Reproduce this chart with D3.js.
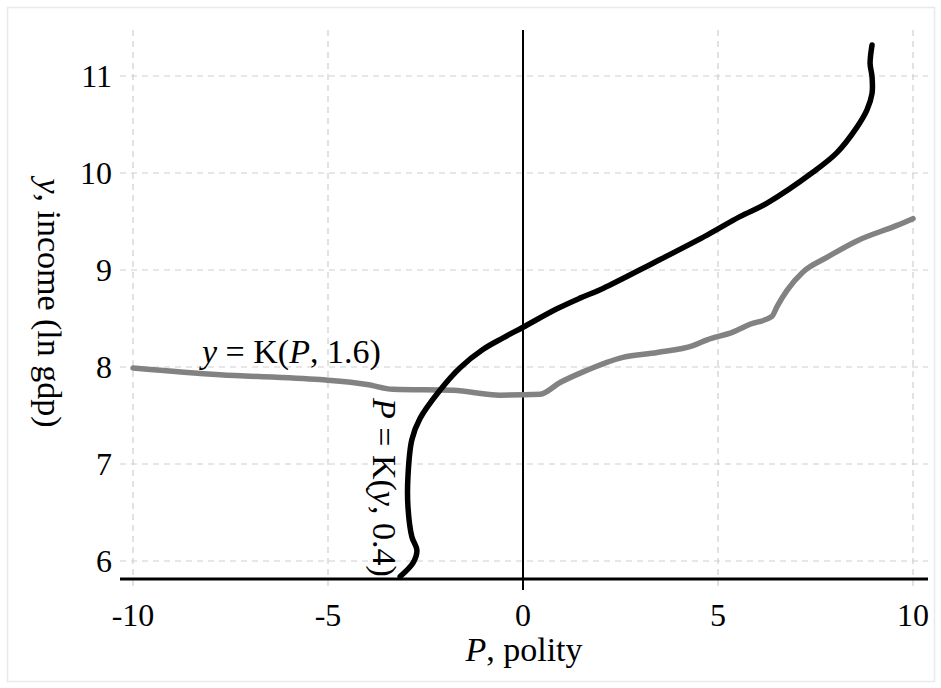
<!DOCTYPE html>
<html lang="en">
<head>
<meta charset="UTF-8">
<title>Polity and income</title>
<script src="https://d3js.org/d3.v7.min.js"></script>
<style>
  body { margin: 0; background: #fff; }
  svg text { font-family: "Liberation Serif", "Times New Roman", serif; fill: #000; }
</style>
</head>
<body>
<svg id="chart" width="941" height="688"></svg>
<script>
// y = K(P, 1.6): income smoothed on polity (grey)
const grayP = [-10, -7.77, -5.21, -4.0, -3.33, -1.79, -0.59, 0.44, 0.95, 1.54, 2.56, 3.44, 4.36, 4.72, 5.38, 5.82, 6.38, 6.51, 6.77, 7.18, 7.79, 8.56, 9.59, 10.0];
const grayY = [7.99, 7.92, 7.87, 7.82, 7.77, 7.76, 7.71, 7.72, 7.84, 7.95, 8.10, 8.15, 8.22, 8.28, 8.36, 8.44, 8.52, 8.62, 8.79, 8.98, 9.13, 9.30, 9.46, 9.53];

// P = K(y, 0.4): polity smoothed on income (black)
const blackY = [5.84, 5.98, 6.11, 6.25, 6.56, 6.87, 7.25, 7.47, 7.76, 7.99, 8.18, 8.30, 8.41, 8.60, 8.71, 8.81, 9.07, 9.36, 9.55, 9.69, 10.01, 10.21, 10.47, 10.65, 10.82, 10.99, 11.13, 11.32];
const blackP = [-3.15, -2.82, -2.72, -2.85, -2.95, -2.95, -2.85, -2.64, -2.13, -1.62, -1.03, -0.51, 0.0, 0.87, 1.46, 2.05, 3.33, 4.72, 5.56, 6.26, 7.44, 8.05, 8.56, 8.82, 8.95, 8.95, 8.90, 8.95];

const xTicks = [-10, -5, 0, 5, 10];
const yTicks = [6, 7, 8, 9, 10, 11];

const svg = d3.select('#chart');

// faint outer frame
svg.append('rect')
    .attr('x', 7.5).attr('y', 7.5)
    .attr('width', 927).attr('height', 674)
    .attr('fill', 'none')
    .attr('stroke', '#e4ecec')
    .attr('stroke-width', 1.5);

const x = d3.scaleLinear().domain([-10, 10]).range([133, 913]);
const y = d3.scaleLinear().domain([6, 11]).range([561, 76]);

const plotLeft = 120, plotRight = 928, plotTop = 30, axisY = 579, plotBelow = 590;

// dashed grid
svg.append('g').selectAll('line').data(xTicks.filter(d => d !== 0)).join('line')
    .attr('x1', d => x(d)).attr('x2', d => x(d))
    .attr('y1', plotTop).attr('y2', plotBelow)
    .attr('stroke', '#cfcfcf').attr('stroke-width', 1.2)
    .attr('stroke-dasharray', '6,5');

svg.append('g').selectAll('line').data(yTicks).join('line')
    .attr('x1', plotLeft).attr('x2', plotRight)
    .attr('y1', d => y(d)).attr('y2', d => y(d))
    .attr('stroke', '#cfcfcf').attr('stroke-width', 1.2)
    .attr('stroke-dasharray', '6,5');

// x axis line and vertical line at P = 0
svg.append('line')
    .attr('x1', plotLeft).attr('x2', plotRight)
    .attr('y1', axisY).attr('y2', axisY)
    .attr('stroke', '#000').attr('stroke-width', 3);

svg.append('line')
    .attr('x1', x(0)).attr('x2', x(0))
    .attr('y1', plotTop).attr('y2', plotBelow)
    .attr('stroke', '#000').attr('stroke-width', 2);

// tick labels
svg.append('g').selectAll('text').data(xTicks).join('text')
    .attr('x', d => x(d)).attr('y', 626)
    .attr('text-anchor', 'middle')
    .style('font-size', '32px')
    .text(d => d);

svg.append('g').selectAll('text').data(yTicks).join('text')
    .attr('x', 112).attr('y', d => y(d))
    .attr('text-anchor', 'end')
    .attr('dominant-baseline', 'central')
    .style('font-size', '32px')
    .text(d => d);

// axis titles
const xt = svg.append('text')
    .attr('x', x(0) + 1).attr('y', 661)
    .attr('text-anchor', 'middle')
    .style('font-size', '34px');
xt.append('tspan').style('font-style', 'italic').text('P');
xt.append('tspan').text(', polity');

const yt = svg.append('text')
    .attr('transform', 'translate(38,303) rotate(90)')
    .attr('text-anchor', 'middle')
    .style('font-size', '34px');
yt.append('tspan').style('font-style', 'italic').text('y');
yt.append('tspan').text(', income (ln gdp)');

// curves
const grayData = grayP.map((p, i) => ({ p, y: grayY[i] }));
const blackData = blackY.map((v, i) => ({ p: blackP[i], y: v }));

svg.append('path')
    .datum(grayData)
    .attr('fill', 'none')
    .attr('stroke', '#828282')
    .attr('stroke-width', 5.5)
    .attr('stroke-linecap', 'round')
    .attr('stroke-linejoin', 'round')
    .attr('d', d3.line().x(d => x(d.p)).y(d => y(d.y)).curve(d3.curveMonotoneX));

svg.append('path')
    .datum(blackData)
    .attr('fill', 'none')
    .attr('stroke', '#000')
    .attr('stroke-width', 5.5)
    .attr('stroke-linecap', 'round')
    .attr('stroke-linejoin', 'round')
    .attr('d', d3.line().x(d => x(d.p)).y(d => y(d.y)).curve(d3.curveCatmullRom));

// curve labels
const gl = svg.append('text')
    .attr('x', 202).attr('y', 363)
    .style('font-size', '34px');
gl.append('tspan').style('font-style', 'italic').text('y');
gl.append('tspan').text(' = K(');
gl.append('tspan').style('font-style', 'italic').text('P');
gl.append('tspan').text(', 1.6)');

const bl = svg.append('text')
    .attr('transform', 'translate(373,398) rotate(90)')
    .style('font-size', '34px');
bl.append('tspan').style('font-style', 'italic').text('P');
bl.append('tspan').text(' = K(');
bl.append('tspan').style('font-style', 'italic').text('y');
bl.append('tspan').text(', 0.4)');
</script>
</body>
</html>
